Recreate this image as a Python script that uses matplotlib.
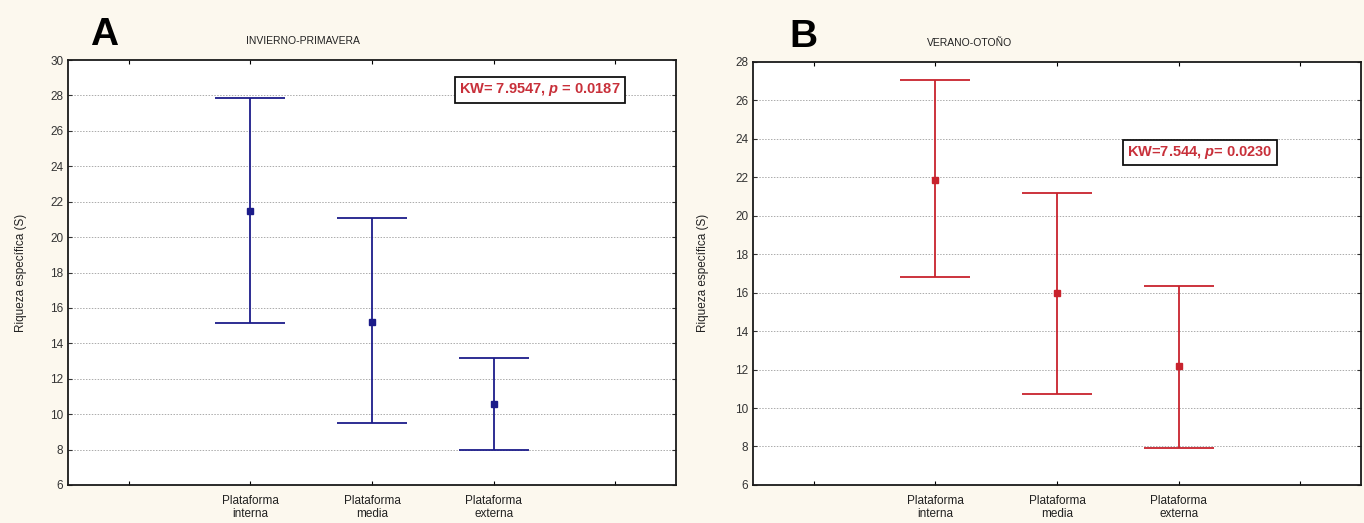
import matplotlib
matplotlib.use("Agg")
import matplotlib.pyplot as plt

plt.rcParams['font.family'] = ['Liberation Sans', 'DejaVu Sans']
plt.rcParams['mathtext.fontset'] = 'custom'
plt.rcParams['mathtext.it'] = 'Liberation Sans:italic:bold'
plt.rcParams['mathtext.rm'] = 'Liberation Sans:bold'

categories = ["Plataforma\ninterna", "Plataforma\nmedia", "Plataforma\nexterna"]

# Panel A: INVIERNO-PRIMAVERA
a_mean = [21.45, 15.2, 10.55]
a_low = [15.15, 9.5, 8.0]
a_high = [27.85, 21.1, 13.15]

# Panel B: VERANO-OTOÑO
b_mean = [21.85, 15.95, 12.2]
b_low = [16.8, 10.75, 7.9]
b_high = [27.05, 21.15, 16.35]

a_yticks = list(range(6, 31, 2))
b_yticks = list(range(6, 29, 2))

bg = '#fcf8ee'
fig = plt.figure(figsize=(13.64, 5.23), dpi=100, facecolor=bg)

def panel(rect, mean, low, high, color, yticks, title, letter, kw_text, box_xy, letter_xy, title_xy, ylabel_x):
    ax = fig.add_axes(rect)
    ax.set_facecolor('white')
    xs = [1, 2, 3]
    yerr = [[m - l for m, l in zip(mean, low)], [h - m for m, h in zip(mean, high)]]
    ax.errorbar(xs, mean, yerr=yerr, fmt='s', color=color, ecolor=color,
                elinewidth=1.3, capsize=25, capthick=1.3, markersize=5, zorder=3)
    ax.set_xlim(-0.5, 4.5)
    ax.set_ylim(yticks[0], yticks[-1])
    ax.set_yticks(yticks)
    ax.set_xticks([0, 1, 2, 3, 4])
    ax.set_xticklabels([''] + categories + [''], fontsize=8.5, color='#222222', linespacing=1.15)
    ax.tick_params(axis='y', labelsize=8.5, colors='#333333', direction='in', length=3, right=True)
    ax.tick_params(axis='x', direction='in', length=3, top=True, pad=7)
    for lab in ax.get_yticklabels():
        lab.set_color('#333333')
    for y in yticks[1:-1]:
        ax.axhline(y, color='#ababab', linestyle=(0, (1.5, 1.5)), linewidth=0.7, zorder=1)
    for s in ax.spines.values():
        s.set_linewidth(1.3)
        s.set_color('#1a1a1a')
    ax.set_ylabel('Riqueza específica (S)', fontsize=8.5, color='#222222')
    ax.yaxis.set_label_coords(ylabel_x, 0.5)
    fig.text(letter_xy[0], letter_xy[1], letter, fontsize=28, fontweight='bold', ha='left', va='center')
    fig.text(title_xy[0], title_xy[1], title, fontsize=7.5, ha='center', va='center', color='#222222')
    fig.text(box_xy[0], box_xy[1], kw_text, fontsize=10.5, fontweight='bold', color='#c8303a',
             ha='center', va='center',
             bbox=dict(boxstyle='square,pad=0.28', facecolor='white', edgecolor='#111111', linewidth=1.3))
    return ax

panel([0.0499, 0.0727, 0.4457, 0.8125], a_mean, a_low, a_high, '#1c1c8a', a_yticks,
      'INVIERNO-PRIMAVERA', 'A', 'KW= 7.9547, $p$ = 0.0187',
      (0.3959, 0.828), (0.066, 0.934), (0.222, 0.922), -0.068)
panel([0.552, 0.0727, 0.446, 0.8095], b_mean, b_low, b_high, '#c8232d', b_yticks,
      'VERANO-OTOÑO', 'B', 'KW=7.544, $p$= 0.0230',
      (0.8798, 0.709), (0.579, 0.929), (0.711, 0.918), -0.072)

fig.savefig('out.png', dpi=100, facecolor=bg)
